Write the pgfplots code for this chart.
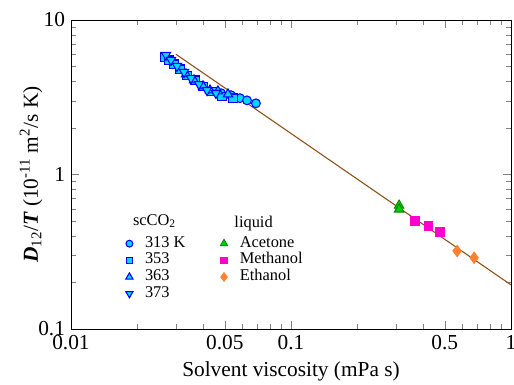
\documentclass[border=0pt]{standalone}
\usepackage{pgfplots}
\pgfplotsset{compat=1.18}
\usepackage{fontspec}
\setmainfont{Liberation Serif}
\definecolor{scfill}{RGB}{0,214,255}
\definecolor{scedge}{RGB}{0,0,255}
\definecolor{acfill}{RGB}{0,204,0}
\definecolor{acedge}{RGB}{0,130,0}
\definecolor{mefill}{RGB}{255,0,204}
\definecolor{etfill}{RGB}{255,128,48}
\definecolor{fitline}{RGB}{140,80,20}
\begin{document}
\begin{tikzpicture}
\begin{axis}[name=main,
  scale only axis, width=330pt, height=231.75pt,
  xmode=log, ymode=log,
  xmin=0.01, xmax=1, ymin=0.1, ymax=10,
  tick align=inside,
  major tick length=6pt, minor tick length=3.5pt,
  axis line style={line width=0.6pt},
  legend cell align=left,
  legend image post style={scale=0.78},
  legend style={draw=none, fill=none, font=\fontsize{12.3}{13}\selectfont,
    row sep=0pt, column sep=9pt, inner sep=0pt,
    nodes={inner sep=0pt, text height=9pt, text depth=3.5pt},
    at={(0.112,0.358)}, anchor=north west},
  tick label style={font=\fontsize{16}{17}\selectfont},
  label style={font=\fontsize{16}{17}\selectfont},
  xticklabel style={yshift=-1pt},
  yticklabel style={xshift=-1pt},
  xtick={0.01,0.05,0.1,0.5,1},
  xticklabels={0.01,0.05,0.1,0.5,1},
  minor xtick={0.02,0.03,0.04,0.06,0.07,0.08,0.09,0.2,0.3,0.4,0.6,0.7,0.8,0.9},
  ytick={0.1,1,10},
  yticklabels={0.1,1,10},
  minor ytick={0.2,0.3,0.4,0.5,0.6,0.7,0.8,0.9,2,3,4,5,6,7,8,9},
  xlabel={Solvent viscosity (mPa s)},
  ylabel={\textbf{\textit{D}}\textsubscript{12}/\textbf{\textit{T}} (10\textsuperscript{-11} m\textsuperscript{2}/s K)},
  ylabel style={yshift=-10pt},
  xlabel style={yshift=-2pt},
]
\addlegendimage{empty legend}
\addlegendentry{\raisebox{4pt}{\hspace*{-9pt}scCO\textsubscript{2}}}
\addplot[fitline, line width=0.8pt, forget plot] coordinates {(0.03,6.0) (1,0.193)};
% 313 K
\addplot[only marks, mark=*, mark size=3.3pt, draw=scedge, fill=scfill, line width=0.8pt]
  coordinates {(0.04808,3.36) (0.05337,3.26) (0.05861,3.12) (0.0631,3.02) (0.0693,2.89)};
\addlegendentry{313 K}
% 353
\addplot[only marks, mark=square*, mark size=3.1pt, draw=scedge, fill=scfill, line width=0.8pt]
  coordinates {(0.02673,5.75) (0.02790,5.50) (0.02938,5.18) (0.03130,4.81) (0.03368,4.39)
   (0.03661,4.08) (0.03981,3.73) (0.04375,3.46) (0.04858,3.21) (0.05450,3.12)};
\addlegendentry{353}
% 363
\addplot[only marks, mark=triangle*, mark size=4.0pt, draw=scedge, fill=scfill, line width=0.8pt]
  coordinates {(0.03333,4.46) (0.03623,4.08) (0.03981,3.73) (0.04285,3.51) (0.04656,3.46) (0.05171,3.31)};
\addlegendentry{363}
% 373
\addplot[only marks, mark=triangle*, mark options={rotate=180}, mark size=4.0pt, draw=scedge, fill=scfill, line width=0.8pt]
  coordinates {(0.02703,5.93) (0.02848,5.50) (0.03033,5.03) (0.03264,4.60) (0.03512,4.20)
   (0.03818,3.84) (0.04150,3.51) (0.04560,3.36)};
\addlegendentry{373}
\end{axis}
\begin{axis}[
  scale only axis, width=330pt, height=231.75pt,
  xmode=log, ymode=log,
  xmin=0.01, xmax=1, ymin=0.1, ymax=10,
  hide axis,
  legend cell align=left,
  legend image post style={scale=0.78},
  legend style={draw=none, fill=none, font=\fontsize{12.3}{13}\selectfont,
    row sep=0pt, column sep=9pt, inner sep=0pt,
    nodes={inner sep=0pt, text height=9pt, text depth=3.5pt},
    at={(0.327,0.358)}, anchor=north west},
]
\addlegendimage{empty legend}
\addlegendentry{\raisebox{2pt}{\hspace*{-4pt}liquid}}
\addplot[only marks, mark=triangle*, mark size=4.2pt, draw=acedge, fill=acfill, line width=0.6pt]
  coordinates {(0.31,0.63) (0.31,0.595)};
\addlegendentry{Acetone}
\addplot[only marks, mark=square*, mark size=3.2pt, draw=mefill, fill=mefill]
  coordinates {(0.366,0.50) (0.42,0.467) (0.475,0.427)};
\addlegendentry{Methanol}
\addplot[only marks, mark=diamond*, mark size=4.4pt, draw=etfill, fill=etfill]
  coordinates {(0.569,0.32) (0.68,0.289)};
\addlegendentry{Ethanol}
\end{axis}
\pgfresetboundingbox
\path ([xshift=-53.25pt,yshift=-42pt]main.south west) rectangle ([xshift=2.25pt,yshift=15pt]main.north east);
\end{tikzpicture}
\end{document}
